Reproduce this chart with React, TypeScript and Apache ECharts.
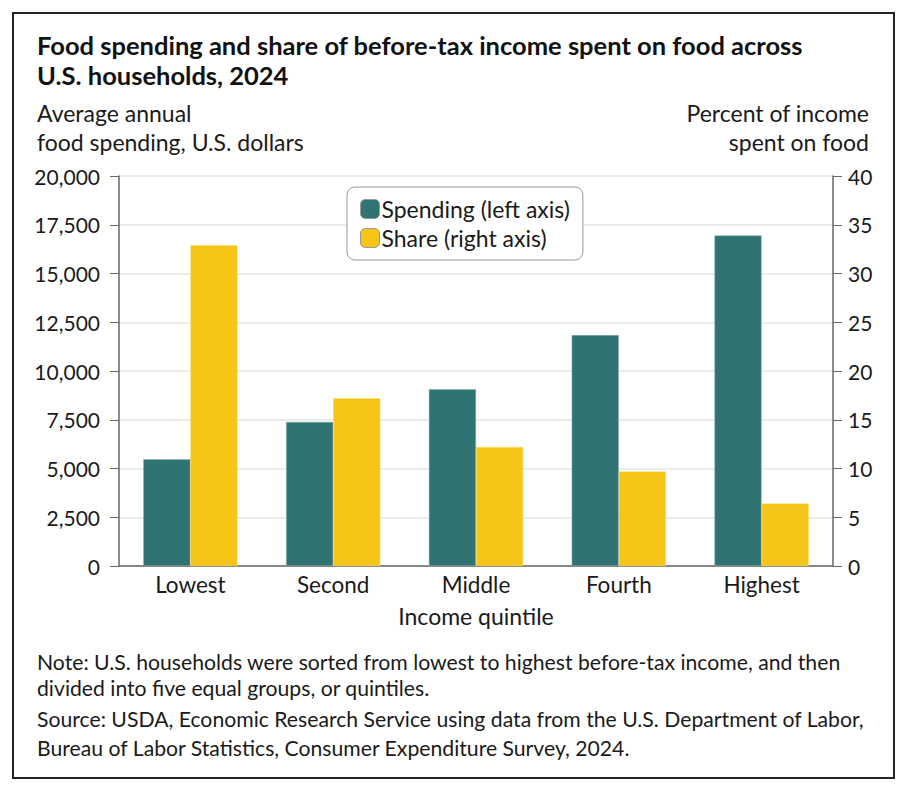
import React, { useEffect, useRef } from "react";
import * as echarts from "echarts";

const categories = ["Lowest", "Second", "Middle", "Fourth", "Highest"];
const spending = [5470, 7390, 9070, 11840, 16950];
const share = [32.9, 17.2, 12.2, 9.7, 6.4];
const leftTicks = { min: 0, max: 20000, interval: 2500 };
const rightTicks = { min: 0, max: 40, interval: 5 };

const titleText = "Food spending and share of before-tax income spent on food across\nU.S. households, 2024";
const leftAxisName = ["Average annual", "food spending, U.S. dollars"];
const rightAxisName = ["Percent of income", "spent on food"];
const xAxisName = "Income quintile";
const noteLines = [
  "Note: U.S. households were sorted from lowest to highest before-tax income, and then",
  "divided into five equal groups, or quintiles.",
];
const sourceLines = [
  "Source: USDA, Economic Research Service using data from the U.S. Department of Labor,",
  "Bureau of Labor Statistics, Consumer Expenditure Survey, 2024.",
];

const FONT = "Lato, 'Noto Sans', sans-serif";
const TEAL = "#307373";
const GOLD = "#f5c518";
const TXT = "#1a1a1a";

export default function App() {
  const ref = useRef<HTMLDivElement>(null);
  useEffect(() => {
    if (!ref.current) return;
    const chart = echarts.init(ref.current, undefined, { renderer: "svg" });
    const txt = (x: number, y: number, text: string, opts: any = {}) => ({
      type: "text",
      x,
      y,
      style: {
        text,
        fill: TXT,
        font: `${opts.weight || "normal"} ${opts.size || 23}px ${FONT}`,
        textAlign: opts.align || "left",
        textVerticalAlign: "middle",
      },
    });
    chart.setOption({
      animation: false,
      backgroundColor: "#fff",
      textStyle: { fontFamily: FONT },
      grid: { left: 111, right: 67, top: 168, bottom: 222, containLabel: false },
      legend: {
        left: 339,
        top: 179,
        orient: "vertical",
        padding: [9, 13, 9, 13],
        itemGap: 3,
        itemWidth: 19,
        itemHeight: 19,
        borderColor: "#999",
        borderWidth: 1,
        borderRadius: 8,
        backgroundColor: "#fff",
        textStyle: { fontSize: 23, lineHeight: 26, color: TXT, fontFamily: FONT, padding: [0, 0, 0, -3] },
        data: [
          { name: "Spending (left axis)", itemStyle: { borderColor: "#999", borderWidth: 1 } },
          { name: "Share (right axis)", itemStyle: { borderColor: "#999", borderWidth: 1 } },
        ],
      },
      xAxis: {
        type: "category",
        data: categories,
        axisLine: { lineStyle: { color: "#666", width: 1.5 } },
        axisTick: { show: false },
        axisLabel: { fontSize: 22.5, color: TXT, margin: 7, fontFamily: FONT },
        name: xAxisName,
        nameLocation: "middle",
        nameGap: 38,
        nameTextStyle: { fontSize: 23, color: TXT, fontFamily: FONT },
      },
      yAxis: [
        {
          type: "value",
          ...leftTicks,
          axisLine: { show: true, lineStyle: { color: "#666", width: 1.5 } },
          axisTick: { show: true, length: 9, lineStyle: { color: "#666" } },
          axisLabel: {
            fontSize: 21,
            color: TXT,
            margin: 19,
            fontFamily: FONT,
            formatter: (v: number) => v.toLocaleString("en-US"),
          },
          splitLine: { lineStyle: { color: "#e6e6e6", width: 1.5 } },
        },
        {
          type: "value",
          ...rightTicks,
          position: "right",
          axisLine: { show: true, lineStyle: { color: "#666", width: 1.5 } },
          axisTick: { show: true, length: 9, lineStyle: { color: "#666" } },
          axisLabel: { fontSize: 21, color: TXT, margin: 15, fontFamily: FONT },
          splitLine: { show: false },
        },
      ],
      series: [
        {
          name: "Spending (left axis)",
          type: "bar",
          yAxisIndex: 0,
          data: spending,
          barGap: "0%",
          barCategoryGap: "34%",
          itemStyle: { color: TEAL, borderColor: "#8fb5b5", borderWidth: 0.5 },
        },
        {
          name: "Share (right axis)",
          type: "bar",
          yAxisIndex: 1,
          data: share,
          barGap: "0%",
          barCategoryGap: "34%",
          itemStyle: { color: GOLD, borderColor: "#f8dc70", borderWidth: 0.5 },
        },
      ],
      graphic: [
        {
          type: "rect",
          shape: { x: 5, y: 5, width: 881, height: 765 },
          style: { fill: "none", stroke: "#222", lineWidth: 2 },
          silent: true,
        },
        {
          type: "text",
          x: 29,
          y: 22,
          style: {
            text: titleText,
            fill: "#111",
            font: `bold 25.5px ${FONT}`,
            lineHeight: 30,
          },
        },
        txt(29, 105, leftAxisName[0]),
        txt(29, 134, leftAxisName[1]),
        txt(861, 105, rightAxisName[0], { align: "right" }),
        txt(861, 134, rightAxisName[1], { align: "right" }),
        txt(29, 654, noteLines[0], { size: 21.2 }),
        txt(29, 680, noteLines[1], { size: 21.2 }),
        txt(29, 711, sourceLines[0], { size: 21.2 }),
        txt(29, 740, sourceLines[1], { size: 21.2 }),
      ],
    });
    return () => chart.dispose();
  }, []);
  return <div ref={ref} style={{ width: 892, height: 780 }} />;
}
